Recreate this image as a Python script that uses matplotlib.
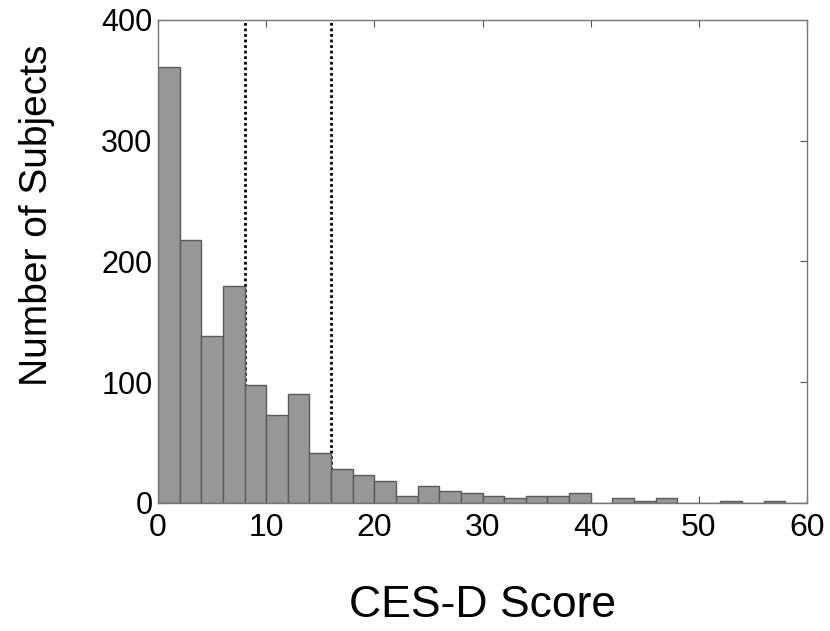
import matplotlib
matplotlib.use("Agg")
import matplotlib.pyplot as plt
import numpy as np

# ── Data: CES-D score histogram, bins of width 2 from 0 to 60 ──
bin_edges = np.arange(0, 62, 2)
counts = [361, 218, 138, 180, 98, 73, 90, 41, 28, 23,
          18, 6, 14, 10, 8, 6, 4, 6, 6, 8,
          0, 4, 2, 4, 0, 0, 2, 0, 2, 0]
cutoffs = [8, 16]

x_ticks = [0, 10, 20, 30, 40, 50, 60]
y_ticks = [0, 100, 200, 300, 400]

plt.rcParams["font.family"] = ["Liberation Sans", "DejaVu Sans"]

fig = plt.figure(figsize=(8.3, 6.31), dpi=100)
ax = fig.add_axes([0.1904, 0.2029, 0.7819, 0.7655])

# cutoff lines sit behind the bars
for c in cutoffs:
    ax.axvline(c, color="black", linestyle=(0, (1, 1)), linewidth=2, zorder=1)

ax.bar(bin_edges[:-1], counts, width=np.diff(bin_edges), align="edge",
       color="#979797", edgecolor="#5a5a5a", linewidth=1, zorder=2)

ax.set_xlim(0, 60)
ax.set_ylim(0, 400)
ax.set_xticks(x_ticks)
ax.set_yticks(y_ticks)
ax.tick_params(direction="in", length=5, width=0.8, color="#555555",
               top=True, right=True)
ax.tick_params(axis="x", labelsize=23, pad=7)
ax.tick_params(axis="y", labelsize=22, pad=4)

for s in ax.spines.values():
    s.set_color("#777777")
    s.set_linewidth(1)

ax.set_xlabel("CES-D Score", fontsize=32, va="baseline")
ax.xaxis.set_label_coords(0.5, -0.236)
ax.set_ylabel("Number of Subjects", fontsize=28)
ax.yaxis.set_label_coords(-0.159, 0.596)

fig.savefig("out.png", dpi=100, facecolor="white")
